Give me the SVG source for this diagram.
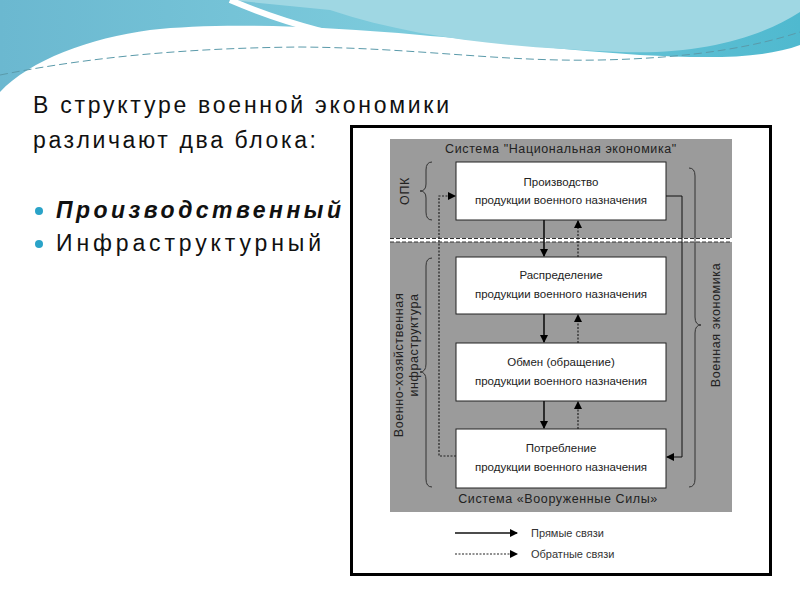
<svg xmlns="http://www.w3.org/2000/svg" width="800" height="600" viewBox="0 0 800 600">
<defs>
<linearGradient id="sky" x1="0" y1="0" x2="1" y2="0">
<stop offset="0" stop-color="#6bb8d0"/><stop offset="0.5" stop-color="#7ccbdc"/><stop offset="1" stop-color="#4fb9cf"/>
</linearGradient>
<marker id="ah" markerWidth="8" markerHeight="8" refX="7" refY="4" orient="auto" markerUnits="userSpaceOnUse"><path d="M0,0 L8,4 L0,8 z" fill="#000"/></marker>
</defs>
<style>
.t{font-family:"Liberation Sans",Arial,sans-serif}
.h{font-family:"Liberation Sans",Arial,sans-serif}
.box{fill:#fff;stroke:#222;stroke-width:1}
.bt{font-size:11.5px;fill:#222;text-anchor:middle}
.gl{font-size:12.5px;fill:#222;letter-spacing:0.6px}
.sol{stroke:#111;stroke-width:1.6;fill:none}
.dot{stroke:#222;stroke-width:1.2;stroke-dasharray:2,1.5;fill:none}
.br{stroke:#333;stroke-width:1;fill:none}
</style>
<rect width="800" height="600" fill="#fff"/>
<g id="background">
<path d="M0,0 H800 V45 C760,60 700,58 640,55 C560,50 480,40 420,35 C320,26 220,22 150,30 C90,38 30,60 0,92 Z" fill="url(#sky)"/>
<path d="M230,0 H800 V12 C760,38 700,55 620,52 C520,48 420,40 330,10 Z" fill="#9fd7e3"/>
<path d="M230,0 C300,30 360,40 400,48" stroke="#fff" stroke-width="6" fill="none"/>
<path d="M0,75 C100,55 200,48 300,47 C420,48 500,62 600,60 C700,58 760,45 800,32" stroke="#5a9aaa" stroke-width="1" stroke-dasharray="8,4" fill="none"/>
</g>
<g id="title" class="h" font-size="23" fill="#111">
<text x="33" y="113" textLength="416" lengthAdjust="spacing">В структуре военной экономики</text>
<text x="33" y="148" textLength="283" lengthAdjust="spacing">различают два блока:</text>
<circle cx="39" cy="211" r="4" fill="#2aa3c8"/>
<text x="56" y="218" font-weight="bold" font-style="italic" textLength="285" lengthAdjust="spacing">Производственный</text>
<circle cx="39" cy="244" r="4" fill="#2aa3c8"/>
<text x="56" y="251" textLength="265" lengthAdjust="spacing">Инфраструктурный</text>
</g>
<g id="frame">
<rect x="351.5" y="126.5" width="419" height="448" fill="#fff" stroke="#000" stroke-width="3"/>
<rect x="390" y="139" width="342" height="99" fill="#9b9b9b"/>
<rect x="390" y="242" width="342" height="270" fill="#9b9b9b"/>
<line x1="390" y1="240" x2="732" y2="240" stroke="#fff" stroke-width="1.5" stroke-dasharray="4,2"/>
<line x1="390" y1="238.5" x2="732" y2="238.5" stroke="#333" stroke-width="1" stroke-dasharray="4,2"/>
<line x1="390" y1="242" x2="732" y2="242" stroke="#333" stroke-width="1" stroke-dasharray="4,2"/>
<text class="t gl" x="561" y="153" text-anchor="middle">Система "Национальная экономика"</text>
<text class="t gl" x="558" y="503" text-anchor="middle" font-size="13">Система «Вооруженные Силы»</text>
</g>
<g id="n1"><rect class="box" x="456" y="162" width="210" height="58"/><text class="t bt" x="561" y="186">Производство</text><text class="t bt" x="561" y="204">продукции военного назначения</text></g>
<g id="n2"><rect class="box" x="456" y="257" width="210" height="57"/><text class="t bt" x="561" y="279">Распределение</text><text class="t bt" x="561" y="298">продукции военного назначения</text></g>
<g id="n3"><rect class="box" x="456" y="343" width="210" height="58"/><text class="t bt" x="561" y="366">Обмен (обращение)</text><text class="t bt" x="561" y="385">продукции военного назначения</text></g>
<g id="n4"><rect class="box" x="456" y="429" width="210" height="59"/><text class="t bt" x="561" y="452">Потребление</text><text class="t bt" x="561" y="471">продукции военного назначения</text></g>
<g id="connectors">
<line class="sol" x1="544" y1="220" x2="544" y2="256" marker-end="url(#ah)"/>
<line class="sol" x1="544" y1="314" x2="544" y2="342" marker-end="url(#ah)"/>
<line class="sol" x1="544" y1="401" x2="544" y2="428" marker-end="url(#ah)"/>
<line class="dot" x1="578" y1="257" x2="578" y2="221" marker-end="url(#ah)"/>
<line class="dot" x1="578" y1="343" x2="578" y2="315" marker-end="url(#ah)"/>
<line class="dot" x1="578" y1="429" x2="578" y2="402" marker-end="url(#ah)"/>
<polyline class="sol" style="stroke-width:1" points="666,196 682,196 682,457 667,457" marker-end="url(#ah)"/>
<polyline class="dot" points="456,456 439,456 439,196 455,196" marker-end="url(#ah)"/>
</g>
<g id="braces">
<path class="br" d="M432,162 Q426,162 426,170 V184 Q426,191 420,191 Q426,191 426,198 V212 Q426,220 432,220"/>
<path class="br" d="M432,258 Q426,258 426,266 V364 Q426,372 420,372 Q426,372 426,380 V479 Q426,487 432,487"/>
<path class="br" d="M689,168 Q695,168 695,176 V317 Q695,325 701,325 Q695,325 695,333 V479 Q695,487 689,487"/>
</g>
<g id="side-labels" class="t" font-size="12.5" fill="#222" letter-spacing="0.6">
<text transform="translate(409,191) rotate(-90)" text-anchor="middle">ОПК</text>
<text transform="translate(403,365) rotate(-90)" text-anchor="middle">Военно-хозяйственная</text>
<text transform="translate(418,345) rotate(-90)" text-anchor="middle">инфраструктура</text>
<text transform="translate(720,325) rotate(-90)" text-anchor="middle">Военная экономика</text>
</g>
<g id="legend" class="t" font-size="11" fill="#333">
<line class="sol" x1="455" y1="533" x2="517" y2="533" marker-end="url(#ah)"/>
<line class="dot" x1="455" y1="554" x2="517" y2="554" marker-end="url(#ah)"/>
<text x="531" y="537">Прямые связи</text>
<text x="531" y="558">Обратные связи</text>
</g>
</svg>
